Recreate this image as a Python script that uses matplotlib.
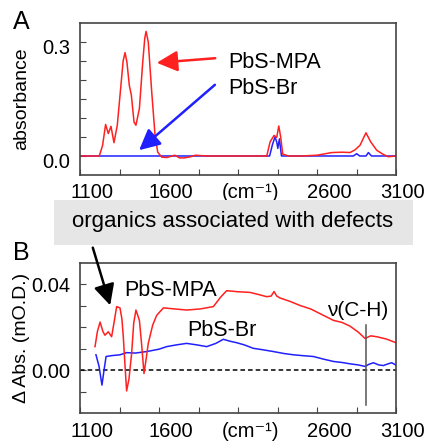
import matplotlib.pyplot as plt
import matplotlib.transforms as mtransforms

plt.rcParams['font.family'] = ['Liberation Sans', 'DejaVu Sans']

# Panel A: absorbance spectra
wn_a_mpa = [1100, 1205, 1222, 1243, 1262, 1279, 1296, 1315, 1336, 1359, 1373, 1385,
            1397, 1412, 1425, 1442, 1454, 1476, 1497, 1510, 1518, 1532, 1554, 1575,
            1592, 1617, 1650, 1700, 1730, 1760, 1800, 1830, 1900, 2000, 2100, 2200,
            2282, 2303, 2328, 2345, 2358, 2370, 2383, 2420, 2500, 2600, 2693, 2760,
            2809, 2840, 2872, 2895, 2910, 2940, 2978, 3020, 3051, 3100]
abs_mpa = [0.0, 0.0, 0.0, 0.028, 0.083, 0.059, 0.078, 0.035, 0.081, 0.186, 0.25, 0.272,
           0.247, 0.186, 0.16, 0.089, 0.081, 0.125, 0.247, 0.31, 0.328, 0.3, 0.168, 0.054,
           0.01, -0.003, -0.004, 0.002, -0.005, -0.005, -0.002, 0.002, 0.0, 0.0, 0.0, 0.0,
           0.0, 0.037, 0.054, 0.049, 0.079, 0.05, 0.005, 0.0, 0.0, 0.002, 0.009, 0.01,
           0.009, 0.016, 0.028, 0.048, 0.061, 0.037, 0.015, 0.004, -0.002, 0.0]
wn_a_br = [1100, 2280, 2300, 2318, 2334, 2345, 2352, 2362, 2375, 2400, 2830, 2851,
           2870, 2910, 2925, 2945, 3100]
abs_br = [0.0, 0.0, 0.0, 0.03, 0.05, 0.037, 0.02, 0.045, 0.0, 0.0, 0.0, 0.006,
          0.0, 0.0, 0.009, 0.0, 0.0]

# Panel B: difference spectra
wn_b_mpa = [1195, 1210, 1227, 1245, 1258, 1279, 1300, 1315, 1332, 1353, 1365, 1374,
            1385, 1395, 1410, 1427, 1440, 1454, 1476, 1490, 1505, 1520, 1532, 1560,
            1585, 1628, 1700, 1775, 1860, 1944, 1990, 2028, 2100, 2176, 2230, 2282,
            2310, 2328, 2345, 2366, 2430, 2493, 2560, 2620, 2704, 2760, 2809, 2860,
            2904, 2940, 2978, 3040, 3100]
dabs_mpa = [0.011, 0.018, 0.0224, 0.018, 0.0163, 0.0179, 0.0156, 0.022, 0.0296, 0.029, 0.024, 0.0156,
            0.002, -0.0096, -0.004, 0.008, 0.022, 0.028, 0.0232, 0.012, -0.0015, 0.006, 0.0125, 0.021,
            0.0255, 0.029, 0.0285, 0.028, 0.0285, 0.0296, 0.034, 0.037, 0.0365, 0.0362, 0.0352, 0.0342,
            0.0345, 0.0366, 0.0345, 0.0336, 0.032, 0.0301, 0.0285, 0.0263, 0.0232, 0.0222, 0.0205, 0.0178,
            0.0148, 0.016, 0.0156, 0.0145, 0.0128]
wn_b_br = [1201, 1220, 1239, 1252, 1265, 1300, 1353, 1395, 1450, 1522, 1600, 1649,
           1710, 1775, 1840, 1902, 1960, 2007, 2050, 2092, 2140, 2197, 2260, 2324,
           2390, 2450, 2510, 2577, 2640, 2704, 2760, 2809, 2860, 2904, 2930, 2957,
           2990, 3020, 3050, 3073, 3100]
dabs_br = [0.0072, 0.002, -0.0069, 0.0, 0.0064, 0.0068, 0.0072, 0.0082, 0.008, 0.0087, 0.0098, 0.011,
           0.0118, 0.0125, 0.0118, 0.011, 0.0125, 0.0144, 0.0135, 0.0128, 0.0118, 0.0102, 0.0095, 0.0087,
           0.0078, 0.0072, 0.0068, 0.0064, 0.0052, 0.0041, 0.0036, 0.003, 0.0025, 0.0018, 0.0028, 0.0035,
           0.0025, 0.0022, 0.003, 0.0035, 0.0024]

xtick_pos = [1100, 1600, 2100, 2600, 3100]
xtick_labels = ['1100', '1600', '(cm\u207b\u00b9)', '2600', '3100']

fig = plt.figure(figsize=(4.26, 4.41), dpi=100)
ax_a = fig.add_axes([0.1878, 0.6032, 0.7418, 0.3447])
ax_b = fig.add_axes([0.1878, 0.0628, 0.7418, 0.3415])

red = '#ff2020'
blue = '#2020ff'

ax_a.plot(wn_a_br, abs_br, color=blue, lw=1.1)
ax_a.plot(wn_a_mpa, abs_mpa, color=red, lw=1.1)
ax_a.set_ylim(-0.05, 0.35)
ax_a.set_yticks([0.0, 0.3])
ax_a.set_yticklabels(['0.0', '0.3'])
ax_a.set_yticks([0.05, 0.1, 0.15, 0.2, 0.25], minor=True)
ax_a.set_ylabel('absorbance', fontsize=14)

ax_b.axhline(0, color='black', lw=1.1, ls='--', dashes=(3, 2))
ax_b.plot(wn_b_br, dabs_br, color=blue, lw=1.1)
ax_b.plot(wn_b_mpa, dabs_mpa, color=red, lw=1.1)
ax_b.plot([2908, 2908], [-0.0162, 0.0209], color='#555555', lw=1.1)
ax_b.set_ylim(-0.02, 0.05)
ax_b.set_yticks([0.0, 0.04])
ax_b.set_yticklabels(['0.00', '0.04'])
ax_b.set_yticks([-0.01, 0.01, 0.02, 0.03], minor=True)
ax_b.set_ylabel('\u0394 Abs. (mO.D.)', fontsize=14)

for ax in (ax_a, ax_b):
    ax.set_xlim(1100, 3100)
    ax.set_xticks(xtick_pos)
    ax.set_xticklabels(xtick_labels)
    ax.set_xticks([1350, 1850, 2350, 2850], minor=True)
    ax.tick_params(which='both', direction='in', length=4, width=0.8,
                   color='#444444', labelsize=14.5, top=False, right=False)
    ax.tick_params(axis='x', pad=6)
    ax.tick_params(axis='y', pad=7)
    ax.yaxis.set_label_coords(-0.158, 0.5)
    for sp in ax.spines.values():
        sp.set_color('#444444')
        sp.set_linewidth(1.2)
    labs = ax.get_xticklabels()
    for i, lab in enumerate(labs):
        dx = 7 if i == len(labs) - 1 else 12
        shift = mtransforms.ScaledTranslation(dx / 100, 0, fig.dpi_scale_trans)
        lab.set_transform(lab.get_transform() + shift)

shift_y = mtransforms.ScaledTranslation(0, -5 / 100, fig.dpi_scale_trans)
for lab in ax_a.get_yticklabels():
    lab.set_transform(lab.get_transform() + shift_y)

# panel A annotations
fig.text(228 / 426, 1 - 63 / 441, 'PbS-MPA', fontsize=15.5, ha='left', va='center')
fig.text(228 / 426, 1 - 89 / 441, 'PbS-Br', fontsize=15.5, ha='left', va='center')
ax_a.annotate('', xy=(154 / 426, 1 - 63 / 441), xytext=(218 / 426, 1 - 58 / 441),
              xycoords='figure fraction', textcoords='figure fraction',
              arrowprops=dict(arrowstyle='-|>,head_length=0.7,head_width=0.35',
                              color=red, lw=1.8, mutation_scale=18))
ax_a.annotate('', xy=(137 / 426, 1 - 152 / 441), xytext=(217 / 426, 1 - 83 / 441),
              xycoords='figure fraction', textcoords='figure fraction',
              arrowprops=dict(arrowstyle='-|>,head_length=0.7,head_width=0.35',
                              color=blue, lw=1.8, mutation_scale=18))

# panel B annotations
fig.text(171 / 426, 1 - 291 / 441, 'PbS-MPA', fontsize=15.5, ha='center', va='center')
fig.text(222 / 426, 1 - 331 / 441, 'PbS-Br', fontsize=15.5, ha='center', va='center')
fig.text(358 / 426, 1 - 310 / 441, '\u03bd(C-H)', fontsize=15, ha='center', va='center')

# grey banner with arrow
fig.patches.append(plt.Rectangle((54 / 426, 1 - 245 / 441), 359 / 426, 45 / 441,
                                 transform=fig.transFigure, facecolor='#e6e6e6',
                                 edgecolor='none', zorder=0))
fig.text(233 / 426, 1 - 222 / 441, 'organics associated with defects', fontsize=16,
         ha='center', va='center')
ax_b.annotate('', xy=(111 / 426, 1 - 308 / 441), xytext=(92 / 426, 1 - 245 / 441),
              xycoords='figure fraction', textcoords='figure fraction',
              arrowprops=dict(arrowstyle='-|>,head_length=0.7,head_width=0.35',
                              color='black', lw=1.8, mutation_scale=18))

fig.text(13 / 426, 1 - 22 / 441, 'A', fontsize=18, ha='left', va='center')
fig.text(13 / 426, 1 - 253 / 441, 'B', fontsize=18, ha='left', va='center')

fig.savefig('out.png', dpi=100)
